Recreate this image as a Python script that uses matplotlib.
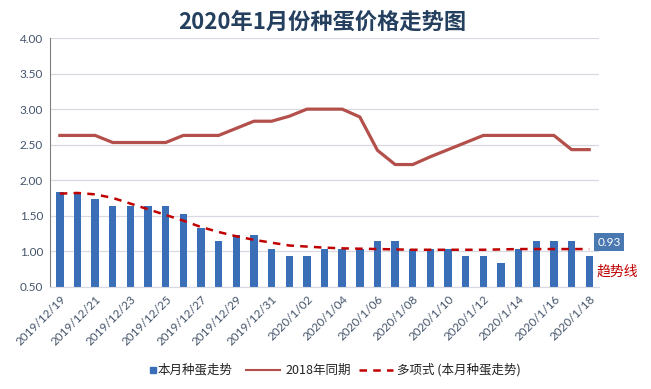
import matplotlib
matplotlib.use("Agg")
import matplotlib.pyplot as plt
import numpy as np
from matplotlib.lines import Line2D
from matplotlib.patches import Rectangle

plt.rcParams['font.family'] = ['Noto Sans CJK SC', 'DejaVu Sans']

dates = ["2019/12/19", "2019/12/20", "2019/12/21", "2019/12/22", "2019/12/23", "2019/12/24",
         "2019/12/25", "2019/12/26", "2019/12/27", "2019/12/28", "2019/12/29", "2019/12/30",
         "2019/12/31", "2020/1/01", "2020/1/02", "2020/1/03", "2020/1/04", "2020/1/05",
         "2020/1/06", "2020/1/07", "2020/1/08", "2020/1/09", "2020/1/10", "2020/1/11",
         "2020/1/12", "2020/1/13", "2020/1/14", "2020/1/15", "2020/1/16", "2020/1/17",
         "2020/1/18"]
current = [1.83, 1.82, 1.73, 1.63, 1.63, 1.63, 1.63, 1.53, 1.33, 1.14, 1.23, 1.23,
           1.03, 0.93, 0.93, 1.03, 1.03, 1.03, 1.14, 1.14, 1.03, 1.03, 1.03, 0.93,
           0.93, 0.83, 1.03, 1.14, 1.14, 1.14, 0.93]
last_year = [2.63, 2.63, 2.63, 2.53, 2.53, 2.53, 2.53, 2.63, 2.63, 2.63, 2.73, 2.83,
             2.83, 2.90, 3.00, 3.00, 3.00, 2.89, 2.42, 2.22, 2.22, 2.33, 2.43, 2.53,
             2.63, 2.63, 2.63, 2.63, 2.63, 2.43, 2.43]
trend = [1.81, 1.82, 1.80, 1.75, 1.67, 1.59, 1.51, 1.43, 1.34, 1.27, 1.21, 1.16,
         1.12, 1.08, 1.065, 1.05, 1.04, 1.035, 1.03, 1.025, 1.02, 1.02, 1.02, 1.02,
         1.02, 1.025, 1.03, 1.03, 1.03, 1.03, 1.03]
label_bar = "本月种蛋走势"
label_line = "2018年同期"
label_trend = "多项式 (本月种蛋走势)"
title = "2020年1月份种蛋价格走势图"

W, H = 651, 389
x = np.arange(len(dates))

fig = plt.figure(figsize=(W / 100, H / 100), dpi=100)
ax = fig.add_axes([0.077, 0.263, 0.843, 0.639])

bar_col = '#3a6fb8'
line_col = '#b4504b'
trend_col = '#c00000'
tick_col = '#44546a'
dash = (0, (3, 2.5))

ax.bar(x, current, width=0.42, bottom=0, color=bar_col, zorder=2)
ax.plot(x, last_year, color=line_col, lw=2.3, zorder=3, solid_joinstyle='round')
ax.plot(x, trend, color=trend_col, lw=1.8, ls=dash, zorder=4)

ax.set_ylim(0.5, 4.0)
ax.set_xlim(-0.55, len(dates) - 0.45)
yt = np.arange(0.5, 4.01, 0.5)
ax.set_yticks(yt)
ax.set_yticklabels([f"{v:.2f}" for v in yt],
                   family=['Lato', 'DejaVu Sans'], fontsize=8.5, color=tick_col)
ax.set_xticks(x[::2])
ax.set_xticklabels(dates[::2], rotation=45, ha='right', rotation_mode='anchor',
                   family=['Lato', 'DejaVu Sans'], fontsize=8.5, color=tick_col)
ax.tick_params(axis='both', length=0, pad=5)
ax.grid(axis='y', color='#d9d9e3', lw=0.9, zorder=0)
for s in ['top', 'right']:
    ax.spines[s].set_visible(False)
ax.spines['left'].set_color('#7f7f7f')
ax.spines['bottom'].set_color('#d9d9e3')

fig.text(322 / W, 1 - 22.5 / H, title, fontsize=16, fontweight='bold',
         color='#25405f', ha='center', va='center')

ax.annotate(f"{current[-1]:.2f}", xy=(x[-1], current[-1]), xytext=(6, 10),
            textcoords='offset points', fontsize=8.5, color='white',
            family=['Lato', 'DejaVu Sans'], va='center', ha='left',
            bbox=dict(boxstyle='square,pad=0.3', fc='#4a78b0', ec='none'),
            annotation_clip=False)
ax.annotate("趋势线", xy=(x[-1], current[-1]), xytext=(5, -11),
            textcoords='offset points', fontsize=10, color=trend_col,
            va='center', ha='left', annotation_clip=False)

# legend (manual, Excel-style)
ly = 1 - 370 / H
fig.add_artist(Rectangle((150 / W, ly - 3 / H), 6 / W, 6 / H,
                         transform=fig.transFigure, color=bar_col))
fig.text(158 / W, ly, label_bar, fontsize=9, va='center', ha='left', color='#222222')
fig.add_artist(Line2D([246 / W, 280 / W], [ly, ly], transform=fig.transFigure,
                      color=line_col, lw=1.5))
fig.text(285 / W, ly, label_line, fontsize=9, va='center', ha='left', color='#222222')
fig.add_artist(Line2D([359 / W, 393 / W], [ly, ly], transform=fig.transFigure,
                      color=trend_col, lw=1.8, ls=dash))
fig.text(397 / W, ly, label_trend, fontsize=9, va='center', ha='left', color='#222222')

fig.savefig("out.png", dpi=100, facecolor='white')
